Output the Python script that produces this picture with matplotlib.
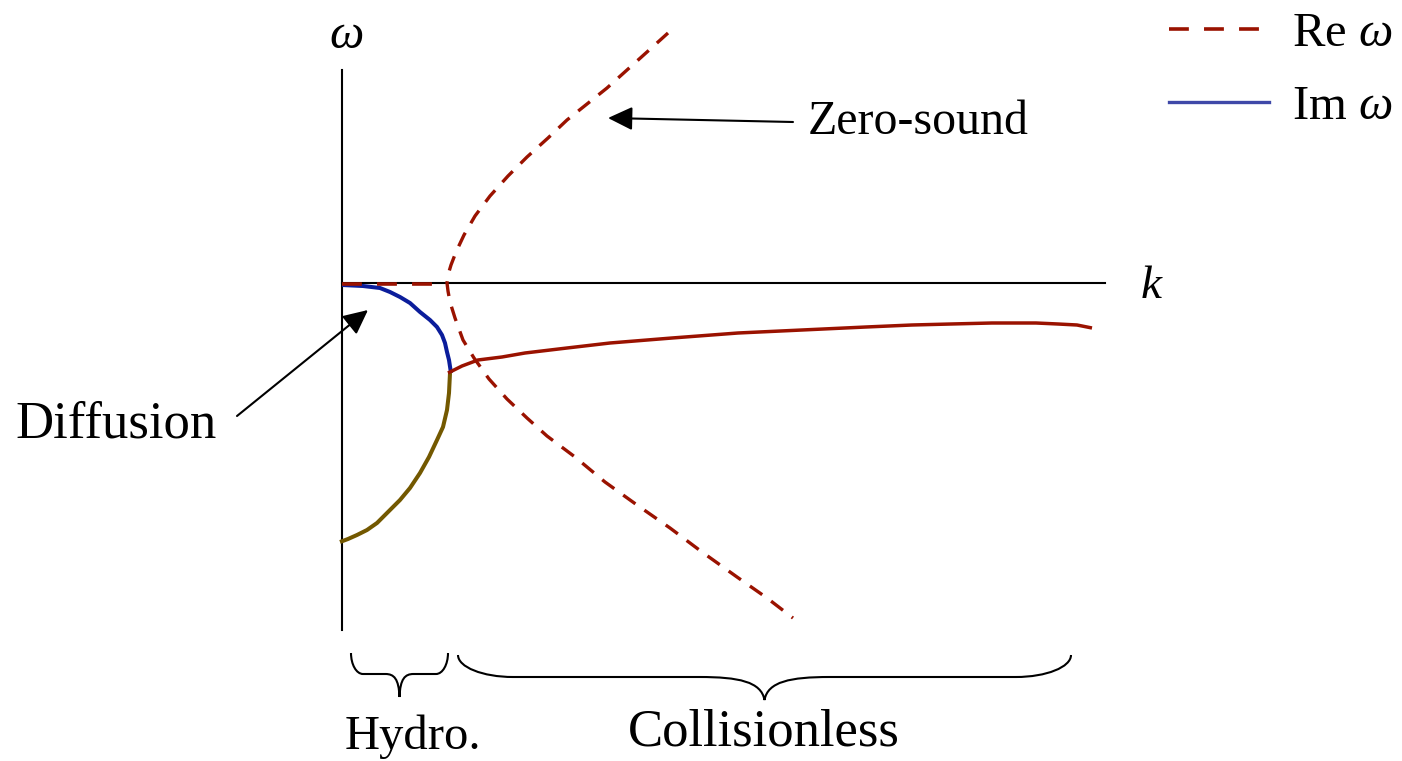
import numpy as np
import matplotlib
matplotlib.use('Agg')
import matplotlib.pyplot as plt
from matplotlib.path import Path
from matplotlib.patches import PathPatch, ArrowStyle
from matplotlib.lines import Line2D

plt.rcParams['font.family'] = ['Liberation Serif', 'DejaVu Serif']
plt.rcParams['mathtext.fontset'] = 'custom'
plt.rcParams['mathtext.rm'] = 'Liberation Serif'
plt.rcParams['mathtext.it'] = 'Liberation Serif:italic'

# zero-sound branch, Re(omega) vs k (upper then lower branch)
zs_k = [3.26, 3.05, 2.85, 2.65, 2.45, 2.25, 2.06, 1.85, 1.66, 1.48, 1.33, 1.22,
        1.14, 1.09, 1.06, 1.05, 1.06, 1.08, 1.13, 1.21, 1.32, 1.47, 1.65, 1.85,
        2.05, 2.33, 2.63, 2.95, 3.28, 3.60, 3.95, 4.25, 4.51]
zs_w = [2.50, 2.31, 2.13, 1.95, 1.79, 1.63, 1.45, 1.26, 1.07, 0.87, 0.67, 0.48,
        0.31, 0.18, 0.08, 0.0, -0.08, -0.19, -0.35, -0.57, -0.75, -0.96, -1.16, -1.35,
        -1.53, -1.74, -1.99, -2.22, -2.45, -2.69, -2.94, -3.15, -3.35]

# Re(omega) of the diffusive mode (sits on the axis)
re_diff_k = [0.0, 0.91]
re_diff_w = [-0.01, -0.01]

# diffusive mode, Im(omega)
diff_k = [0.0, 0.21, 0.38, 0.48, 0.58, 0.68, 0.78, 0.88, 0.95, 1.00, 1.03, 1.05, 1.07, 1.09]
diff_w = [-0.02, -0.03, -0.05, -0.09, -0.14, -0.20, -0.29, -0.37, -0.44, -0.52,
          -0.60, -0.69, -0.77, -0.90]

# non-hydro mode, Im(omega) below the merging point
damp_k = [1.08, 1.07, 1.05, 1.01, 0.95, 0.87, 0.78, 0.68, 0.58, 0.46, 0.35, 0.25,
          0.15, 0.06, -0.02]
damp_w = [-0.90, -1.10, -1.27, -1.44, -1.57, -1.74, -1.90, -2.05, -2.17, -2.29,
          -2.40, -2.47, -2.52, -2.56, -2.59]

# zero-sound damping, Im(omega)
zsim_k = [1.06, 1.20, 1.36, 1.60, 1.83, 2.25, 2.68, 3.30, 3.96, 4.60, 5.24, 5.70,
          6.09, 6.50, 6.94, 7.16, 7.35, 7.50]
zsim_w = [-0.90, -0.83, -0.77, -0.74, -0.70, -0.65, -0.60, -0.55, -0.50, -0.47,
          -0.44, -0.42, -0.41, -0.40, -0.40, -0.41, -0.42, -0.45]

# k ranges of the two regimes
hydro_range = [0.09, 1.06]
colless_range = [1.16, 7.29]

RED = '#9a1200'
BLUE = '#0b1d9b'
OLIVE = '#735800'

fig = plt.figure(figsize=(14.02, 7.61), dpi=100)
ax = fig.add_axes([0, 0, 1, 1])
ax.set_xlim(-3.42, 10.60)
ax.set_ylim(-4.78, 2.83)
ax.axis('off')

# axes
ax.plot([0, 0], [-3.47, 2.13], color='black', lw=1.5)
ax.plot([0, 7.63], [0, 0], color='black', lw=1.5)
ax.text(0.04, 2.35, r'$\omega$', fontsize=35, ha='center', va='baseline')
ax.text(8.10, -0.15, r'$k$', fontsize=34, ha='center', va='baseline')

ax.plot(damp_k, damp_w, color=OLIVE, lw=2.9, solid_capstyle='butt', solid_joinstyle='round')
ax.plot(diff_k, diff_w, color=BLUE, lw=2.9, solid_capstyle='butt', solid_joinstyle='round')
ax.plot(zsim_k, zsim_w, color=RED, lw=2.5, solid_capstyle='butt', solid_joinstyle='round')
ax.plot(zs_k, zs_w, color=RED, lw=2.4, dashes=[4.5, 3.3])
ax.plot(re_diff_k, re_diff_w, color=RED, lw=2.6, dashes=[5.5, 4.2])

# legend
handles = [Line2D([], [], color=RED, lw=2.6, dashes=[5.5, 4.2]),
           Line2D([], [], color='#3f48a8', lw=2.4)]
ax.legend(handles, [r'Re $\omega$', r'Im $\omega$'], loc='upper right',
          bbox_to_anchor=(0.993, 0.984), frameon=False, fontsize=35,
          handlelength=2.06, handletextpad=0.47, labelspacing=0.6,
          borderaxespad=0.0, borderpad=0.0)

# annotations
arrow = ArrowStyle('-|>', head_length=1.0, head_width=0.48)
ax.annotate('', xy=(2.66, 1.65), xytext=(4.51, 1.61),
            arrowprops=dict(arrowstyle=arrow, color='black', lw=1.5,
                            mutation_scale=15, shrinkA=0, shrinkB=0))
ax.text(4.66, 1.49, 'Zero-sound', fontsize=34.5, ha='left', va='baseline')

ax.annotate('', xy=(0.26, -0.27), xytext=(-1.05, -1.33),
            arrowprops=dict(arrowstyle=arrow, color='black', lw=1.5,
                            mutation_scale=15, shrinkA=0, shrinkB=0))
ax.text(-3.27, -1.55, 'Diffusion', fontsize=38, ha='left', va='baseline')


def brace(x0, x1, ytop, ymid, ybot, r_end, r_mid):
    xc = (x0 + x1) / 2
    c = 0.55
    verts = [
        (x0, ytop),
        (x0, ytop + c * (ymid - ytop)), (x0 + (1 - c) * r_end, ymid), (x0 + r_end, ymid),
        (xc - r_mid, ymid),
        (xc - 0.4 * r_mid, ymid), (xc - 0.05 * r_mid, ymid + 0.2 * (ybot - ymid)), (xc, ybot),
        (xc + 0.05 * r_mid, ymid + 0.2 * (ybot - ymid)), (xc + 0.4 * r_mid, ymid), (xc + r_mid, ymid),
        (x1 - r_end, ymid),
        (x1 - (1 - c) * r_end, ymid), (x1, ytop + c * (ymid - ytop)), (x1, ytop),
    ]
    codes = [Path.MOVETO,
             Path.CURVE4, Path.CURVE4, Path.CURVE4,
             Path.LINETO,
             Path.CURVE4, Path.CURVE4, Path.CURVE4,
             Path.CURVE4, Path.CURVE4, Path.CURVE4,
             Path.LINETO,
             Path.CURVE4, Path.CURVE4, Path.CURVE4]
    ax.add_patch(PathPatch(Path(verts, codes), fill=False, color='black', lw=1.5))


brace(hydro_range[0], hydro_range[1], -3.70, -3.91, -4.14, 0.12, 0.14)
brace(colless_range[0], colless_range[1], -3.72, -3.94, -4.17, 0.55, 0.65)

ax.text(0.03, -4.66, 'Hydro.', fontsize=35, ha='left', va='baseline')
ax.text(2.86, -4.63, 'Collisionless', fontsize=38, ha='left', va='baseline')

fig.savefig('out.png', dpi=100)
